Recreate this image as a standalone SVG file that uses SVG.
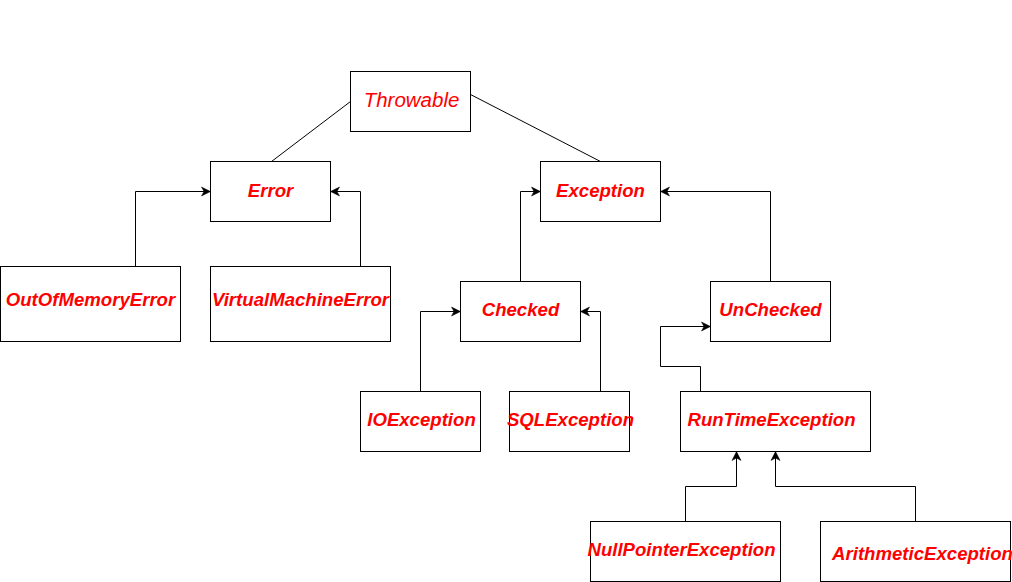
<svg xmlns="http://www.w3.org/2000/svg" width="1012" height="582" viewBox="0 0 1012 582">
<style>
.box{fill:#fff;stroke:#000;stroke-width:1}
.lbl{font-family:"Liberation Sans",Arial,sans-serif;font-size:18.6px;font-weight:bold;font-style:italic;fill:#ff0000;text-anchor:middle}
.top{font-family:"Liberation Sans",Arial,sans-serif;font-size:20.5px;font-style:italic;fill:#ff0000;text-anchor:middle}
.edge{fill:none;stroke:#000;stroke-width:1}
</style>
<defs>
<marker id="arr" markerUnits="userSpaceOnUse" markerWidth="12" markerHeight="12" refX="9" refY="4.5" orient="auto" overflow="visible">
<path d="M0,0 L9,4.5 L0,9 L2.5,4.5 Z" fill="#000" stroke="#000" stroke-width="0.5"/>
</marker>
</defs>
<rect width="1012" height="582" fill="#fff"/>
<g transform="translate(0.5,0.5)">
<g id="connectors">
<path class="edge" d="M271,161 L350,101"/>
<path class="edge" d="M470,94 L600,161"/>
<path class="edge" d="M135,266 V191 H210" marker-end="url(#arr)"/>
<path class="edge" d="M360,266 V191 H330" marker-end="url(#arr)"/>
<path class="edge" d="M520,281 V191 H540" marker-end="url(#arr)"/>
<path class="edge" d="M770,281 V191 H660" marker-end="url(#arr)"/>
<path class="edge" d="M420,391 V311 H460" marker-end="url(#arr)"/>
<path class="edge" d="M600,391 V311 H580" marker-end="url(#arr)"/>
<path class="edge" d="M700,391 V366 H660 V326 H710" marker-end="url(#arr)"/>
<path class="edge" d="M685,521 V486 H736 V451" marker-end="url(#arr)"/>
<path class="edge" d="M915,521 V486 H775 V451" marker-end="url(#arr)"/>
</g>
<g id="throwable"><rect class="box" x="350" y="71" width="120" height="60"/><text class="top" x="411" y="106">Throwable</text></g>
<g id="error"><rect class="box" x="210" y="161" width="120" height="60"/><text class="lbl" x="270" y="196">Error</text></g>
<g id="exception"><rect class="box" x="540" y="161" width="120" height="60"/><text class="lbl" x="600" y="196">Exception</text></g>
<g id="outofmemoryerror"><rect class="box" x="0" y="266" width="180" height="75"/><text class="lbl" x="90" y="305">OutOfMemoryError</text></g>
<g id="virtualmachineerror"><rect class="box" x="210" y="266" width="180" height="75"/><text class="lbl" x="300" y="305">VirtualMachineError</text></g>
<g id="checked"><rect class="box" x="460" y="281" width="120" height="60"/><text class="lbl" x="520" y="315">Checked</text></g>
<g id="unchecked"><rect class="box" x="710" y="281" width="120" height="60"/><text class="lbl" x="770" y="315">UnChecked</text></g>
<g id="ioexception"><rect class="box" x="360" y="391" width="120" height="60"/><text class="lbl" x="421" y="425">IOException</text></g>
<g id="sqlexception"><rect class="box" x="509" y="391" width="120" height="60"/><text class="lbl" x="570" y="425">SQLException</text></g>
<g id="runtimeexception"><rect class="box" x="680" y="391" width="190" height="60"/><text class="lbl" x="771" y="425">RunTimeException</text></g>
<g id="nullpointerexception"><rect class="box" x="590" y="521" width="190" height="60"/><text class="lbl" x="681" y="555">NullPointerException</text></g>
<g id="arithmeticexception"><rect class="box" x="820" y="521" width="190" height="60"/><text class="lbl" x="922" y="559">ArithmeticException</text></g>
</g>
</svg>
